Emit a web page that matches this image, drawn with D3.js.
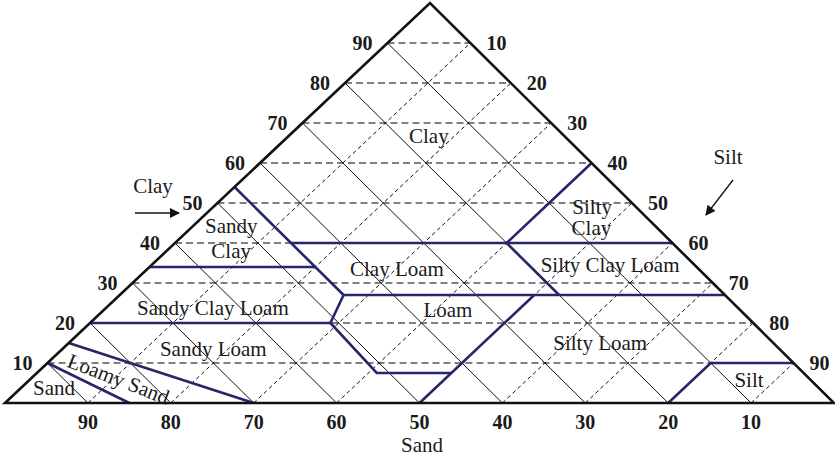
<!DOCTYPE html>
<html>
<head>
<meta charset="utf-8">
<script src="https://cdn.jsdelivr.net/npm/d3@7"></script>
<style>
  html, body { margin: 0; padding: 0; background: #fff; }
  svg { display: block; }
  text { font-family: "Liberation Serif", "Times New Roman", serif; fill: #1a1a1a; }
</style>
</head>
<body>
<svg id="chart" width="835" height="458"></svg>
<script>
// Soil texture triangle: percentages of sand, silt and clay.
const gridSteps = [10, 20, 30, 40, 50, 60, 70, 80, 90];
const sandTickLabels = [90, 80, 70, 60, 50, 40, 30, 20, 10];
const clayTickLabels = [10, 20, 30, 40, 50, 60, 70, 80, 90];
const siltTickLabels = [10, 20, 30, 40, 50, 60, 70, 80, 90];

// Texture class boundaries, each a polyline of [sand, silt, clay] points.
const classBoundaries = [
  [[46, 0, 54], [46, 27, 27]],
  [[46, 14, 40], [0, 60, 40]],
  [[20, 40, 40], [0, 40, 60]],
  [[66, 0, 34], [46, 20, 34]],
  [[46, 27, 27], [0, 73, 27]],
  [[20, 40, 40], [20, 53, 27]],
  [[46, 27, 27], [51, 29, 20], [51.5, 41, 7.5], [42.5, 50, 7.5]],
  [[80, 0, 20], [51, 29, 20]],
  [[50, 50, 0], [23, 50, 27]],
  [[20, 80, 0], [10, 80, 10], [0, 90, 10]],
  [[85, 0, 15], [70, 30, 0]],
  [[90, 0, 10], [85, 15, 0]]
];

// Class names and where each sits, as [silt, clay] percentages.
const classNames = ["Clay", "Sandy", "Clay", "Silty", "Clay", "Silty Clay Loam",
  "Clay Loam", "Sandy Clay Loam", "Loam", "Sandy Loam", "Silty Loam", "Silt", "Sand", "Loamy Sand"];
const classSilt = [17.8, 5.5, 8.7, 46.6, 49.2, 56.2, 31.0, 13.8, 42.4, 19.1, 65.0, 87.7, 4.9, 10.6];
const classClay = [65, 42.5, 36.25, 47.25, 42, 32.75, 31.75, 22, 21.5, 11.75, 13.25, 4, 2, 6.0];
const classAngle = [0, 0, 0, 0, 0, 0, 0, 0, 0, 0, 0, 0, 0, 21];

const svg = d3.select("#chart");

// Left corner = 100% sand, right corner = 100% silt, apex = 100% clay.
const xScale = d3.scaleLinear().domain([0, 100]).range([5, 834]);
const yScale = d3.scaleLinear().domain([0, 100]).range([403, 3]);
const apexX = 430;
const apexShare = (apexX - xScale(0)) / (xScale(100) - xScale(0)); // clay's pull toward the apex

function project(sand, silt, clay) {
  return [xScale(silt + clay * apexShare), yScale(clay)];
}
const line = d3.line();

const grid = svg.append("g");

// Clay: horizontal dashed lines
grid.selectAll(".clay-line").data(gridSteps).join("path")
  .attr("d", c => line([project(100 - c, 0, c), project(0, 100 - c, c)]))
  .attr("fill", "none").attr("stroke", "#555").attr("stroke-width", 1.4)
  .attr("stroke-dasharray", "7,4");

// Sand: solid lines parallel to the silt–clay side
grid.selectAll(".sand-line").data(gridSteps).join("path")
  .attr("d", s => line([project(s, 100 - s, 0), project(s, 0, 100 - s)]))
  .attr("fill", "none").attr("stroke", "#111").attr("stroke-width", 1);

// Silt: dashed lines parallel to the sand–clay side
grid.selectAll(".silt-line").data(gridSteps).join("path")
  .attr("d", t => line([project(100 - t, t, 0), project(0, t, 100 - t)]))
  .attr("fill", "none").attr("stroke", "#111").attr("stroke-width", 1)
  .attr("stroke-dasharray", "4,3");

// Texture class boundaries
svg.append("g").selectAll("path").data(classBoundaries).join("path")
  .attr("d", pts => line(pts.map(p => project(p[0], p[1], p[2]))))
  .attr("fill", "none").attr("stroke", "#27256b").attr("stroke-width", 2.6)
  .attr("stroke-linejoin", "miter");

// Triangle outline
svg.append("path")
  .attr("d", line([project(100, 0, 0), project(0, 0, 100), project(0, 100, 0)]) + "Z")
  .attr("fill", "none").attr("stroke", "#111").attr("stroke-width", 2.6)
  .attr("stroke-linejoin", "miter");

// Tick labels
const ticks = svg.append("g").attr("font-weight", "bold").attr("font-size", 20);
ticks.selectAll(".sand-tick").data(sandTickLabels).join("text")
  .attr("x", s => project(s, 100 - s, 0)[0])
  .attr("y", yScale(0) + 26)
  .attr("text-anchor", "middle")
  .text(d => d);
ticks.selectAll(".clay-tick").data(clayTickLabels).join("text")
  .attr("x", c => project(100 - c, 0, c)[0] - 15)
  .attr("y", c => yScale(c) + 7)
  .attr("text-anchor", "end")
  .text(d => d);
ticks.selectAll(".silt-tick").data(siltTickLabels).join("text")
  .attr("x", t => project(0, t, 100 - t)[0] + 16)
  .attr("y", t => yScale(100 - t) + 7)
  .attr("text-anchor", "start")
  .text(d => d);

// Class names
svg.append("g").attr("font-size", 21).selectAll("text").data(classNames).join("text")
  .attr("transform", (d, i) => {
    const p = project(100 - classSilt[i] - classClay[i], classSilt[i], classClay[i]);
    return `translate(${p[0]},${p[1]}) rotate(${classAngle[i]})`;
  })
  .attr("text-anchor", "middle")
  .attr("dominant-baseline", (d, i) => classAngle[i] ? "central" : "alphabetic")
  .text(d => d);

// Side titles with arrows
const defs = svg.append("defs");
defs.append("marker").attr("id", "head")
  .attr("viewBox", "0 0 10 10").attr("refX", 9).attr("refY", 5)
  .attr("markerWidth", 12).attr("markerHeight", 10).attr("markerUnits", "userSpaceOnUse")
  .attr("orient", "auto")
  .append("path").attr("d", "M0,0L10,5L0,10Z").attr("fill", "#111");

const titles = svg.append("g").attr("font-size", 21);
titles.append("text").attr("x", 422).attr("y", 452).attr("text-anchor", "middle").text("Sand");
titles.append("text").attr("x", 153).attr("y", 193).attr("text-anchor", "middle").text("Clay");
titles.append("text").attr("x", 728).attr("y", 164).attr("text-anchor", "middle").text("Silt");

svg.append("line").attr("x1", 135).attr("y1", 213).attr("x2", 179).attr("y2", 213)
  .attr("stroke", "#111").attr("stroke-width", 1.3).attr("marker-end", "url(#head)");
svg.append("line").attr("x1", 733).attr("y1", 180).attr("x2", 706).attr("y2", 215)
  .attr("stroke", "#111").attr("stroke-width", 1.3).attr("marker-end", "url(#head)");
</script>
</body>
</html>
